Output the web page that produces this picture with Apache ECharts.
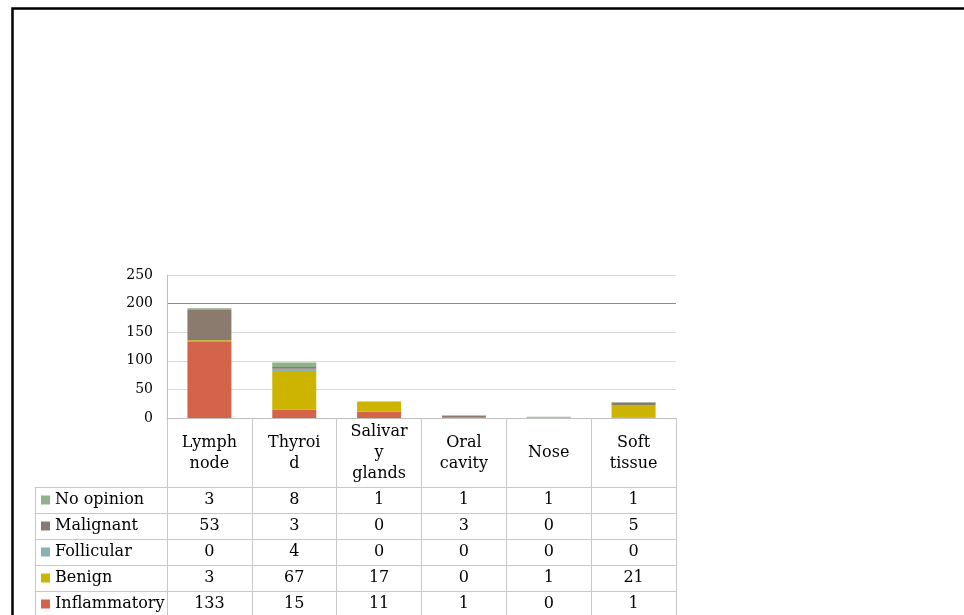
<!DOCTYPE html>
<html><head><meta charset="utf-8">
<script src="https://cdn.jsdelivr.net/npm/echarts@6/dist/echarts.min.js"></script>
<style>html,body{margin:0;padding:0;background:#fff}#c{width:964px;height:615px}</style>
</head><body><div id="c"></div><script>
// ---- data ----
const categories = ['Lymph\nnode', 'Thyroi\nd', 'Salivar\ny\nglands', 'Oral\ncavity', 'Nose', 'Soft\ntissue'];
const seriesNames = ['No opinion', 'Malignant', 'Follicular', 'Benign', 'Inflammatory'];
const noOpinion    = [3, 8, 1, 1, 1, 1];
const malignant    = [53, 3, 0, 3, 0, 5];
const follicular   = [0, 4, 0, 0, 0, 0];
const benign       = [3, 67, 17, 0, 1, 21];
const inflammatory = [133, 15, 11, 1, 0, 1];
const yMin = 0, yMax = 250, yStep = 50;

// ---- styling ----
const FONT = 'DejaVu Serif';
const colorMap = {
  'No opinion': '#8fb18c',
  'Malignant': '#8b7b6f',
  'Follicular': '#88b3b2',
  'Benign': '#cdb400',
  'Inflammatory': '#d3644a'
};
const rows = [noOpinion, malignant, follicular, benign, inflammatory];
const HEADER_H = 69, ROW_H = 26;
const gridLineColor = '#d9d9d9';
const tableLineColor = '#c8c8c8';

const chart = echarts.init(document.getElementById('c'), null, {renderer: 'canvas'});

const xAxes = [];
// main category axis (bars + header row of the table)
xAxes.push({
  type: 'category', gridIndex: 0, position: 'bottom', data: categories,
  axisLine: {show: true, onZero: false, lineStyle: {color: '#bfbfbf', width: 1}},
  axisTick: {show: true, interval: 0, length: 197, alignWithLabel: false, lineStyle: {color: tableLineColor}},
  axisLabel: {interval: 0, margin: 35, verticalAlign: 'middle', lineHeight: 21,
              fontFamily: FONT, fontSize: 16, color: '#000'}
});
// table value rows
rows.forEach((arr, i) => {
  xAxes.push({
    type: 'category', gridIndex: 0, position: 'bottom', data: categories,
    offset: HEADER_H + ROW_H * i,
    axisLine: {show: true, onZero: false, lineStyle: {color: tableLineColor, width: 1}},
    axisTick: {show: false},
    axisLabel: {interval: 0, margin: 13, verticalAlign: 'middle',
                fontFamily: FONT, fontSize: 16, color: '#000',
                formatter: (v, idx) => String(arr[idx])}
  });
});
// legend column lines
rows.forEach((arr, i) => {
  xAxes.push({
    type: 'category', gridIndex: 1, position: 'bottom', data: [''],
    offset: HEADER_H + ROW_H * i,
    axisLine: {show: true, onZero: false, lineStyle: {color: tableLineColor, width: 1}},
    axisTick: {show: i === 0, interval: 0, length: 140, lineStyle: {color: tableLineColor}},
    axisLabel: {show: false}
  });
});

const splitColors = [];
for (let v = yMin; v <= yMax; v += yStep) splitColors.push(v === 200 ? '#8a8a8a' : gridLineColor);

const series = seriesNames.slice().reverse().map(name => ({
  name, type: 'bar', stack: 'total', xAxisIndex: 0, yAxisIndex: 0,
  barWidth: 44,
  itemStyle: {color: colorMap[name]},
  data: rows[seriesNames.indexOf(name)]
}));

chart.setOption({
  animation: false,
  backgroundColor: '#ffffff',
  textStyle: {fontFamily: FONT},
  grid: [
    {left: 167, right: 288, top: 275, bottom: 197, containLabel: false},
    {left: 35, width: 132, top: 275, bottom: 197, containLabel: false}
  ],
  xAxis: xAxes,
  yAxis: [
    {type: 'value', gridIndex: 0, min: yMin, max: yMax, interval: yStep,
     axisLine: {show: true, lineStyle: {color: '#bfbfbf'}},
     axisTick: {show: false},
     axisLabel: {margin: 14, fontFamily: FONT, fontSize: 14, color: '#000'},
     splitLine: {show: true, lineStyle: {color: splitColors, width: 1}}},
    {type: 'value', gridIndex: 1, show: false}
  ],
  legend: {
    orient: 'vertical', left: 41, top: 487, height: 160, width: 125, padding: 0, itemGap: 0,
    itemWidth: 9, itemHeight: 9, icon: 'rect', data: seriesNames,
    textStyle: {fontFamily: FONT, fontSize: 16, color: '#000', lineHeight: 26}
  },
  graphic: [{
    type: 'rect', left: 10, top: 6, z: 100, silent: true,
    shape: {width: 1000, height: 700},
    style: {fill: 'none', stroke: '#000', lineWidth: 2.5}
  }],
  series
});
</script></body></html>
